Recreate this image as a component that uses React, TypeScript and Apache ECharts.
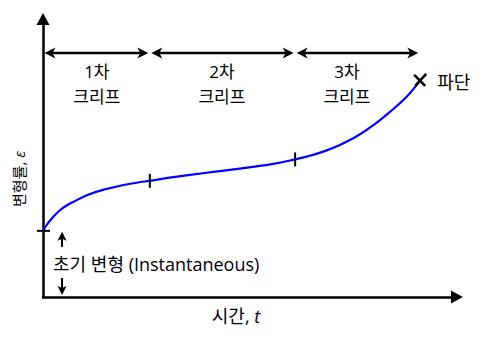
import React, { useEffect, useRef } from "react";
import * as echarts from "echarts";

// Creep curve (arbitrary units 0..100)
const time = [0, 0.9, 1.7, 2.5, 4.1, 5.7, 7.3, 10.9, 14.9, 18.9, 22.9, 25.8, 31.5, 39.5, 47.6, 55.6, 60.9, 63.7, 67.7, 71.7, 75.8, 79.8, 83.8, 87.9, 91.1];
const strain = [23.8, 25.9, 27.5, 28.9, 31.2, 32.9, 34.2, 36.8, 38.7, 40.1, 41.2, 41.8, 43.1, 44.7, 46.2, 47.9, 49.5, 50.5, 52.3, 54.7, 57.8, 61.8, 66.6, 72.1, 77.9];

// Stage boundaries (time), stage arrow level, stage label centres and names
const stageBounds = [0, 25.8, 60.9, 91.0];
const stageLevel = 87.8;
const stageLabelT = [13, 43.2, 73.4];
const stageOrder = ["1차", "2차", "3차"];
const stageWord = "크리프";

// Marks on the curve
const instantStrain = 23.8;
const instantArrowT = 4.6;
const instantLabel = "초기 변형 (Instantaneous)";
const fracture = [91.1, 78.1];
const fractureLabel = "파단";

const xName = "시간, {i|t}";
const yName = "변형률, {i|ε}";

const FONT = "'Open Sans', 'Noto Sans CJK KR', sans-serif";
const FS = 18;

export default function App() {
  const ref = useRef<HTMLDivElement>(null);
  useEffect(() => {
    if (!ref.current) return;
    const chart = echarts.init(ref.current, null, { renderer: "svg" });

    const stageData = stageOrder.map((_, i) => [stageBounds[i], stageBounds[i + 1], stageLevel, stageLabelT[i]]);

    const option: any = {
      animation: false,
      backgroundColor: "#fff",
      grid: { left: 43, right: 31, top: 19, bottom: 40 },
      xAxis: {
        type: "value",
        min: 0,
        max: 100,
        axisLine: { show: true, onZero: false, symbol: ["none", "triangle"], symbolSize: [13, 12], lineStyle: { color: "#000", width: 2.5 } },
        axisTick: { show: false },
        axisLabel: { show: false },
        splitLine: { show: false },
      },
      yAxis: {
        type: "value",
        min: 0,
        max: 100,
        axisLine: { show: true, onZero: false, symbol: ["none", "triangle"], symbolSize: [13, 12], lineStyle: { color: "#000", width: 2.5 } },
        axisTick: { show: false },
        axisLabel: { show: false },
        splitLine: { show: false },
      },
      graphic: [
        {
          type: "text",
          x: 236,
          y: 316,
          style: {
            text: xName,
            fontFamily: FONT,
            fontSize: FS,
            fill: "#000",
            align: "center",
            verticalAlign: "middle",
            rich: { i: { fontStyle: "italic", fontFamily: FONT, fontSize: FS } },
          },
        },
        {
          type: "text",
          x: 19,
          y: 179,
          rotation: Math.PI / 2,
          style: {
            text: yName,
            fontFamily: FONT,
            fontSize: 15,
            fill: "#000",
            align: "center",
            verticalAlign: "middle",
            rich: { i: { fontStyle: "italic", fontFamily: FONT, fontSize: 15 } },
          },
        },
      ],
      series: [
        {
          type: "line",
          data: time.map((t, i) => [t, strain[i]]),
          smooth: 0.4,
          symbol: "none",
          lineStyle: { color: "#0000ff", width: 2.2 },
          z: 3,
        },
        {
          type: "custom",
          clip: false,
          data: stageData,
          z: 4,
          renderItem: (params: any, api: any) => {
            const i = params.dataIndex;
            const lvl = api.value(2);
            const p0 = api.coord([api.value(0), lvl]);
            const p1 = api.coord([api.value(1), lvl]);
            const lab = api.coord([api.value(3), lvl]);
            const x0 = p0[0] + 1.5;
            const x1 = p1[0] - 1.5;
            const y = p0[1];
            const txt = (text: string, dy: number) => ({
              type: "text",
              x: lab[0],
              y: y + dy,
              style: { text, fontFamily: FONT, fontSize: 17, fill: "#000", align: "center", verticalAlign: "middle" },
            });
            return {
              type: "group",
              children: [
                { type: "line", shape: { x1: x0 + 4, y1: y, x2: x1 - 4, y2: y }, style: { stroke: "#000", lineWidth: 2.5 } },
                { type: "polygon", shape: { points: [[x0, y], [x0 + 11, y - 5.5], [x0 + 8, y], [x0 + 11, y + 5.5]] }, style: { fill: "#000" } },
                { type: "polygon", shape: { points: [[x1, y], [x1 - 11, y - 5.5], [x1 - 8, y], [x1 - 11, y + 5.5]] }, style: { fill: "#000" } },
                txt(stageOrder[i], 18.5),
                txt(stageWord, 43.5),
              ],
            };
          },
        },
        {
          type: "custom",
          clip: false,
          data: [[0]],
          z: 5,
          renderItem: (params: any, api: any) => {
            const children: any[] = [];
            // instantaneous tick (horizontal)
            const s = api.coord([0, instantStrain]);
            children.push({ type: "line", shape: { x1: s[0] - 6, y1: s[1], x2: s[0] + 7, y2: s[1] }, style: { stroke: "#000", lineWidth: 2 } });
            // stage boundary ticks (vertical) on the curve
            [stageBounds[1], stageBounds[2]].forEach((t) => {
              let k = 0;
              while (k < time.length - 1 && time[k + 1] < t) k++;
              const f = (t - time[k]) / (time[k + 1] - time[k]);
              const e = strain[k] + f * (strain[k + 1] - strain[k]);
              const p = api.coord([t, e]);
              children.push({ type: "line", shape: { x1: p[0], y1: p[1] - 7, x2: p[0], y2: p[1] + 7 }, style: { stroke: "#000", lineWidth: 2 } });
            });
            // fracture X
            const fp = api.coord(fracture);
            children.push({ type: "line", shape: { x1: fp[0] - 6, y1: fp[1] - 5, x2: fp[0] + 5, y2: fp[1] + 6 }, style: { stroke: "#000", lineWidth: 2.5 } });
            children.push({ type: "line", shape: { x1: fp[0] - 5, y1: fp[1] + 6, x2: fp[0] + 6, y2: fp[1] - 6 }, style: { stroke: "#000", lineWidth: 2.5 } });
            children.push({
              type: "text",
              x: fp[0] + 17,
              y: fp[1] + 2,
              style: { text: fractureLabel, fontFamily: FONT, fontSize: FS, fill: "#000", align: "left", verticalAlign: "middle" },
            });
            // instantaneous strain arrows
            const top = api.coord([instantArrowT, instantStrain]);
            const bot = api.coord([instantArrowT, 0]);
            const ax = top[0];
            const ty = top[1] + 1;
            const by = bot[1] - 2;
            const midY = (top[1] + bot[1]) / 2;
            children.push({ type: "line", shape: { x1: ax, y1: ty + 6, x2: ax, y2: ty + 15 }, style: { stroke: "#000", lineWidth: 2 } });
            children.push({ type: "polygon", shape: { points: [[ax, ty], [ax - 4.5, ty + 9], [ax, ty + 7], [ax + 4.5, ty + 9]] }, style: { fill: "#000" } });
            children.push({ type: "line", shape: { x1: ax, y1: by - 17, x2: ax, y2: by - 6 }, style: { stroke: "#000", lineWidth: 2 } });
            children.push({ type: "polygon", shape: { points: [[ax, by], [ax - 4.5, by - 9], [ax, by - 7], [ax + 4.5, by - 9]] }, style: { fill: "#000" } });
            children.push({
              type: "text",
              x: ax - 9,
              y: midY,
              style: { text: instantLabel, fontFamily: FONT, fontSize: FS, fill: "#000", align: "left", verticalAlign: "middle" },
            });
            return { type: "group", children };
          },
        },
      ],
    };
    chart.setOption(option);
    return () => chart.dispose();
  }, []);
  return <div ref={ref} style={{ width: 488, height: 337, margin: -8 }} />;
}
